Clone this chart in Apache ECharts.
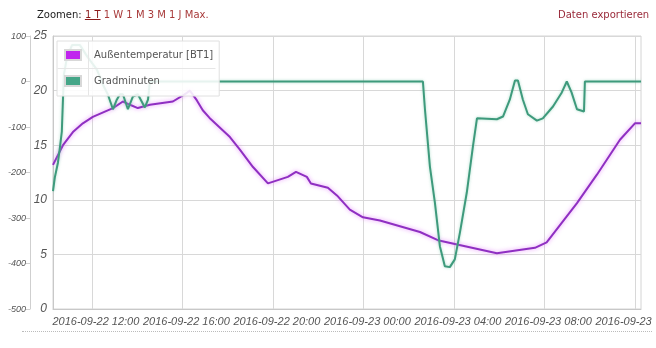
<!DOCTYPE html>
<html>
<head>
<meta charset="utf-8">
<script src="https://cdn.jsdelivr.net/npm/echarts@6/dist/echarts.min.js"></script>
<style>
  body { margin: 0; background: #fff; font-family: "DejaVu Sans", sans-serif; }
  #wrap { position: relative; width: 653px; height: 348px; overflow: hidden; }
  #chart { position: absolute; left: 0; top: 0; width: 656px; height: 348px; }
  #zoom { position: absolute; left: 37px; top: 9px; font-size: 10px; color: #222; }
  #zoom a { color: #a83a3a; text-decoration: none; }
  #zoom a.on { color: #8b1c1c; text-decoration: underline; }
  #export { position: absolute; left: 558px; top: 9px; font-size: 10px; color: #9a2a3a; }
  #dots { position: absolute; left: 22px; top: 331px; width: 634px; border-top: 1px dotted #bbb; }
</style>
</head>
<body>
<div id="wrap">
  <div id="chart"></div>
  <div id="zoom">Zoomen: <a class="on">1 T</a> <a>1 W</a> <a>1 M</a> <a>3 M</a> <a>1 J</a> <a>Max.</a></div>
  <div id="export">Daten exportieren</div>
  <div id="dots"></div>
</div>
<script>
// Zeit in Stunden ab 2016-09-22 00:00
var xTicks = [12, 16, 20, 24, 28, 32, 36];
var xLabels = ['2016-09-22 12:00', '2016-09-22 16:00', '2016-09-22 20:00',
  '2016-09-23 00:00', '2016-09-23 04:00', '2016-09-23 08:00', '2016-09-23 12:00'];

// Außentemperatur [BT1]
var tempTime = [10.28, 10.72, 11.16, 11.6, 12.04, 12.93, 13.37, 13.68, 14.03, 14.56, 15.58, 16.2, 16.33,
  16.64, 16.9, 17.2, 18.1, 18.54, 19.12, 19.78, 20.66, 21.02, 21.5, 21.68, 22.43, 22.83, 23.4, 23.98,
  24.73, 26.5, 27.29, 29.9, 31.58, 32.1, 33.44, 34.32, 35.34, 36.0, 36.27];
var tempValues = [13.2, 15.0, 16.2, 17.0, 17.6, 18.4, 19.0, 18.7, 18.4, 18.7, 19.0, 19.8, 20.0,
  19.1, 18.2, 17.5, 15.75, 14.6, 13.0, 11.5, 12.1, 12.55, 12.1, 11.5, 11.1, 10.4, 9.1, 8.4,
  8.1, 7.05, 6.3, 5.1, 5.6, 6.1, 9.7, 12.3, 15.5, 17.0, 17.0];

// Gradminuten
var gradTime = [10.28, 10.36, 10.5, 10.59, 10.67, 10.72, 10.76, 10.9, 11.12, 11.47, 11.82, 12.22, 12.49,
  12.7, 12.93, 13.1, 13.24, 13.37, 13.59, 13.81, 14.03, 14.34, 14.48, 14.56, 26.63, 26.72, 26.94,
  27.16, 27.38, 27.6, 27.82, 28.04, 28.27, 28.57, 28.84, 29.02, 29.9, 30.17, 30.47, 30.7, 30.83,
  31.05, 31.27, 31.67, 31.93, 32.38, 32.77, 32.99, 33.2, 33.44, 33.75, 33.79, 36.27];
var gradValues = [-241, -211, -178, -143, -110, -40, 15, 53, 80, 80, 53, 26, -7,
  -28, -61, -40, -28, -28, -61, -33, -28, -57, -40, 0, 0, -61, -187,
  -266, -362, -406, -408, -391, -331, -244, -143, -81, -83, -77, -40, 2, 2,
  -40, -72, -86, -81, -55, -24, 0, -24, -61, -66, 0, 0];

function pairs(xs, ys) {
  return xs.map(function (x, i) { return [x, ys[i]]; });
}

var chart = echarts.init(document.getElementById('chart'));
var labelFont = { fontFamily: 'Liberation Sans, Arial, sans-serif', fontStyle: 'italic', color: '#555' };

chart.setOption({
  animation: false,
  grid: {
    left: 53, right: 15, top: 36, bottom: 39,
    outerBoundsMode: 'none', containLabel: false,
    show: true, borderColor: '#d4d4d4', borderWidth: 1
  },
  // Trennlinien der Legenden-Tabelle
  graphic: [
    { type: 'line', zlevel: 1, shape: { x1: 57.5, y1: 68.5, x2: 215.5, y2: 68.5 }, style: { stroke: '#e6e6e6', lineWidth: 1 } },
    { type: 'line', zlevel: 1, shape: { x1: 88.5, y1: 41.5, x2: 88.5, y2: 95.5 }, style: { stroke: '#e6e6e6', lineWidth: 1 } }
  ],
  legend: {
    orient: 'vertical',
    left: 57, top: 41,
    padding: [8, 6, 9, 7],
    backgroundColor: 'rgba(255,255,255,0.88)',
    borderColor: '#e0e0e0',
    borderWidth: 1,
    itemGap: 14,
    itemWidth: 16,
    itemHeight: 10,
    icon: 'rect',
    textStyle: { fontFamily: 'DejaVu Sans', fontSize: 10, color: '#555', padding: [0, 0, 0, 8] },
    data: ['Außentemperatur [BT1]', 'Gradminuten']
  },
  xAxis: {
    type: 'value',
    min: 10.28,
    max: 36.27,
    axisLine: { show: true, lineStyle: { color: '#c8c8c8' } },
    axisTick: { show: false, customValues: xTicks },
    splitLine: { show: true, lineStyle: { color: '#d8d8d8' } },
    axisLabel: Object.assign({
      fontSize: 11, margin: 7,
      padding: [0, 0, 0, 8],
      hideOverlap: false,
      customValues: xTicks,
      formatter: function (v) { return xLabels[xTicks.indexOf(v)] || ''; }
    }, labelFont)
  },
  yAxis: [
    {
      type: 'value', min: 0, max: 25, interval: 5,
      axisLine: { show: true, lineStyle: { color: '#c8c8c8' } },
      axisTick: { show: false },
      splitLine: { show: true, lineStyle: { color: '#d8d8d8' } },
      axisLabel: Object.assign({ fontSize: 12, margin: 6 }, labelFont)
    },
    {
      type: 'value', position: 'left', offset: 23, min: -500, max: 100, interval: 100,
      axisLine: { show: true, lineStyle: { color: '#cfcfcf' } },
      axisTick: { show: true, length: 4, lineStyle: { color: '#cfcfcf' } },
      splitLine: { show: false },
      axisLabel: Object.assign({ fontSize: 9, margin: 4 }, labelFont)
    }
  ],
  series: [
    {
      name: 'Außentemperatur [BT1]',
      type: 'line',
      yAxisIndex: 0,
      showSymbol: false,
      itemStyle: { color: '#c024ee', borderColor: '#d8d8d8', borderWidth: 1 },
      lineStyle: { color: '#8f2fc2', width: 2, shadowColor: 'rgba(225,120,250,0.8)', shadowBlur: 4 },
      data: pairs(tempTime, tempValues)
    },
    {
      name: 'Gradminuten',
      type: 'line',
      yAxisIndex: 1,
      showSymbol: false,
      itemStyle: { color: '#45a688', borderColor: '#d8d8d8', borderWidth: 1 },
      lineStyle: { color: '#3e9a7c', width: 2, shadowColor: 'rgba(120,200,170,0.6)', shadowBlur: 3 },
      data: pairs(gradTime, gradValues)
    }
  ]
});
</script>
</body>
</html>
